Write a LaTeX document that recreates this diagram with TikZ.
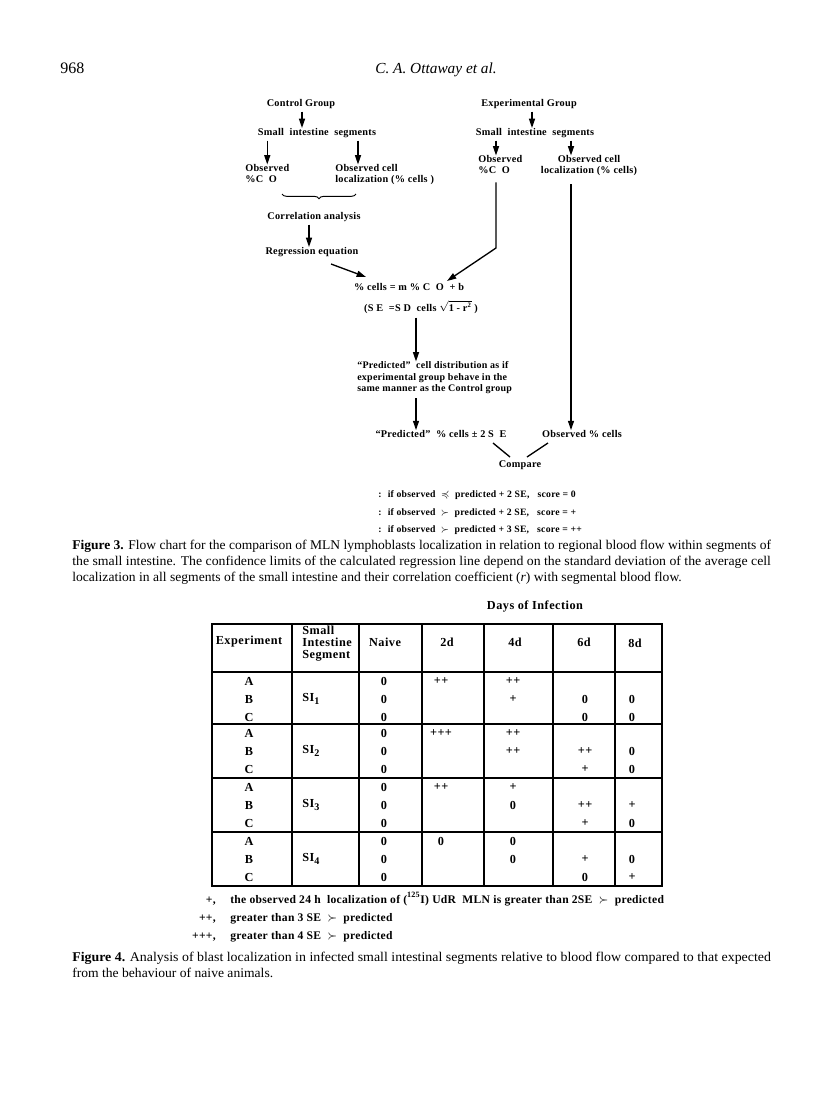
\documentclass[tikz,border=0pt]{standalone}
\usepackage{fontspec}
\usepackage{amssymb}
\usepackage{graphicx}
\setmainfont{Liberation Serif}
\newfontfamily\fcf{Liberation Serif}[LetterSpace=2.5]
\newfontfamily\tbf{Liberation Serif}[LetterSpace=4]
\usetikzlibrary{arrows.meta,decorations.pathreplacing,calc}
\newcommand\capfull[1]{\resizebox{524pt}{\height}{#1}}
\newcommand\caplast[1]{\scalebox{1.02}[1]{#1}}
\newcommand\subn[1]{\raisebox{-0.55ex}{\fontsize{7.6}{8}\selectfont #1}}
\newcommand\tabrow[7]{%
  \node[tabtxt] (#1n) at (384,#2) {#3};
  \node[tabtxt] (#1a) at (441,#2) {#4};
  \node[tabtxt] (#1b) at (513,#2) {#5};
  \node[tabtxt] (#1c) at (585,#2) {#6};
  \node[tabtxt] (#1d) at (632,#2) {#7};}
\tikzset{
  fcnode/.style={font=\fcf\bfseries\fontsize{7.7}{8.25}\selectfont, inner sep=0pt, align=left},
  scoretxt/.style={font=\fcf\bfseries\fontsize{7.3}{8}\selectfont, inner sep=0pt, anchor=west},
  tabtxt/.style={font=\tbf\bfseries\fontsize{9.2}{9}\selectfont, inner sep=0pt},
  legtxt/.style={font=\fcf\bfseries\fontsize{8.7}{9}\selectfont, inner sep=0pt},
  captxt/.style={font=\fontsize{10}{12}\selectfont, inner sep=0pt, anchor=base west},
  arr/.style={line width=1pt, -{Triangle[length=7pt,width=4.5pt]}},
  ln/.style={line width=1pt},
  tline/.style={line width=0.8pt}
}
\begin{document}
\begin{tikzpicture}[x=0.75pt,y=-0.75pt]
\useasboundingbox (0,0) rectangle (816,1104);
\fill[white] (0,0) rectangle (816,1104);

% running head
\node[anchor=base west, inner sep=0pt, font=\fontsize{12}{14}\selectfont] (pg) at (60,73) {968};
\node[anchor=base, inner sep=0pt, font=\itshape\fontsize{11.5}{14}\selectfont] (rh) at (436,73) {C.~A.~Ottaway et al.};

% ---------- flow chart ----------
\node[fcnode] (cg) at (301,104) {Control Group};
\node[fcnode] (cgsi) at (317,133) {Small~ intestine~ segments};
\node[fcnode, anchor=north west] (obsL) at (245,164.5) {Observed\\\%C~ O};
\node[fcnode, anchor=north west] (obscellL) at (335,164.5) {Observed cell\\localization (\% cells )};
\node[fcnode] (corr) at (314,217) {Correlation analysis};
\node[fcnode] (reg) at (312,252) {Regression equation};
\node[fcnode] (eq1) at (409,287) {\% cells = m \% C~ O~ + b};
\node[fcnode] (eq2) at (421,307) {(S E~ =S D~ cells $\sqrt{\mbox{\fcf\bfseries 1 - r}^{\mbox{\fcf\bfseries\tiny 2}}}$ )};

\node[fcnode] (eg) at (529,104) {Experimental Group};
\node[fcnode] (egsi) at (535,133) {Small~ intestine~ segments};
\node[fcnode, anchor=north west] (obsR) at (478,155.5) {Observed\\\%C~ O};
\node[fcnode, anchor=north, align=center] (obscellR) at (589,155.5) {Observed cell\\localization (\% cells)};

\node[fcnode, anchor=north west, font=\fcf\bfseries\fontsize{7.5}{8.6}\selectfont] (pred) at (357,361.5) {“Predicted”~ cell distribution as if\\experimental group behave in the\\same manner as the Control group};
\node[fcnode] (predse) at (441,434) {“Predicted”~ \% cells ± 2 S~ E};
\node[fcnode] (obscells) at (582,434) {Observed \% cells};
\node[fcnode] (compare) at (520,465) {Compare};

\coordinate (kA) at (358,0);
\coordinate (kB) at (309,0);
\coordinate (kC) at (496,0);
\coordinate (kD) at (571,0);
\coordinate (kE) at (416,0);
\coordinate (kF) at (532,0);
\coordinate (kG) at (302,0);
\coordinate (r1) at (331,264);
\coordinate (r2) at (366,277);
\coordinate (b1) at (496,248);
\coordinate (b2) at (447,281);
\coordinate (c1) at (493,443);
\coordinate (c2) at (510,457);
\coordinate (c3) at (548,443);
\coordinate (c4) at (527,457);
\coordinate (br1) at (282,194);
\coordinate (br2) at (356,194);

\draw[arr, shorten <=2pt] (cg.south -| kG) -- (cgsi.north -| kG);
\draw[arr, shorten <=2pt] (cgsi.south -| obsL.north) -- (obsL.north);
\draw[arr, shorten <=2pt] (cgsi.south -| kA) -- (obscellL.north -| kA);
\draw[decorate, decoration={brace, amplitude=3.5pt, mirror}, line width=0.7pt] (br1) -- (br2);
\draw[arr, shorten <=2pt] (corr.south -| kB) -- (reg.north -| kB);
\draw[arr] (r1) -- (r2);

\draw[arr, shorten <=2pt] (eg.south -| kF) -- (egsi.north -| kF);
\draw[arr, shorten <=2pt] (egsi.south -| kC) -- (obsR.north -| kC);
\draw[arr, shorten <=2pt] (egsi.south -| kD) -- (obscellR.north -| kD);
\draw[arr, shorten <=6pt] (obsR.south -| kC) -- (b1) -- (b2);
\draw[arr, shorten <=6pt] (obscellR.south -| kD) -- (obscells.north -| kD);

\draw[arr, shorten <=3pt] (eq2.south -| kE) -- (pred.north -| kE);
\draw[arr, shorten <=3pt] (pred.south -| kE) -- (predse.north -| kE);
\draw[ln] (c1) -- (c2);
\draw[ln] (c3) -- (c4);

\node[scoretxt] (s1) at (378,495) {:~ if observed~ $\preccurlyeq$~ predicted + 2 SE,~~ score = 0};
\node[scoretxt] (s2) at (378,513) {:~ if observed~ $\succ$~ predicted + 2 SE,~~ score = +};
\node[scoretxt] (s3) at (378,530) {:~ if observed~ $\succ$~ predicted + 3 SE,~~ score = ++};

% caption figure 3
\node[captxt] (f3a) at (72,549) {\capfull{\textbf{Figure 3.} Flow chart for the comparison of MLN lymphoblasts localization in relation to regional blood flow within segments of}};
\node[captxt] (f3b) at (72,565) {\capfull{the small intestine. The confidence limits of the calculated regression line depend on the standard deviation of the average cell}};
\node[captxt] (f3c) at (72,581) {\caplast{localization in all segments of the small intestine and their correlation coefficient (\textit{r}) with segmental blood flow.}};

% ---------- table ----------
\node[tabtxt] (days) at (535,606) {Days of Infection};
\draw[tline] (212,624) rectangle (662,886);
\foreach \x in {292,359,422,484,553,615} \draw[tline] (\x,624) -- (\x,886);
\foreach \y in {672,724,778,832} \draw[tline] (212,\y) -- (662,\y);

\node[tabtxt] (hexp) at (249,642) {Experiment};
\node[tabtxt, align=left, anchor=north west] (hseg) at (302,625.5) {Small\\Intestine\\Segment};
\node[tabtxt] (hnai) at (385,642) {Naive};
\node[tabtxt] (h2) at (447,642) {2d};
\node[tabtxt] (h4) at (515,642) {4d};
\node[tabtxt] (h6) at (584,642) {6d};
\node[tabtxt] (h8) at (635,643) {8d};

\foreach \g/\T in {1/672,2/724,3/778,4/832} {
  \node[tabtxt] (e\g A) at (249,\T+9) {A};
  \node[tabtxt] (e\g B) at (249,\T+27) {B};
  \node[tabtxt] (e\g C) at (249,\T+45) {C};
  \node[tabtxt, anchor=west] (seg\g) at (302,\T+27) {SI\subn{\g}};
}
\tabrow{r1A}{681}{0}{++}{++}{}{}
\tabrow{r1B}{699}{0}{}{+}{0}{0}
\tabrow{r1C}{717}{0}{}{}{0}{0}
\tabrow{r2A}{733}{0}{+++}{++}{}{}
\tabrow{r2B}{751}{0}{}{++}{++}{0}
\tabrow{r2C}{769}{0}{}{}{+}{0}
\tabrow{r3A}{787}{0}{++}{+}{}{}
\tabrow{r3B}{805}{0}{}{0}{++}{+}
\tabrow{r3C}{823}{0}{}{}{+}{0}
\tabrow{r4A}{841}{0}{0}{0}{}{}
\tabrow{r4B}{859}{0}{}{0}{+}{0}
\tabrow{r4C}{877}{0}{}{}{0}{+}

% legend
\node[legtxt, anchor=base east] (k1) at (216,903) {+,};
\node[legtxt, anchor=base west] (k1t) at (230,903) {the observed 24 h~ localization of (\textsuperscript{125}I) UdR~ MLN is greater than 2SE~ $\succ$~ predicted};
\node[legtxt, anchor=base east] (k2) at (216,921) {++,};
\node[legtxt, anchor=base west] (k2t) at (230,921) {greater than 3 SE~ $\succ$~ predicted};
\node[legtxt, anchor=base east] (k3) at (216,939) {+++,};
\node[legtxt, anchor=base west] (k3t) at (230,939) {greater than 4 SE~ $\succ$~ predicted};

% caption figure 4
\node[captxt] (f4a) at (72,961) {\capfull{\textbf{Figure 4.} Analysis of blast localization in infected small intestinal segments relative to blood flow compared to that expected}};
\node[captxt] (f4b) at (72,977) {\caplast{from the behaviour of naive animals.}};
\end{tikzpicture}
\end{document}
